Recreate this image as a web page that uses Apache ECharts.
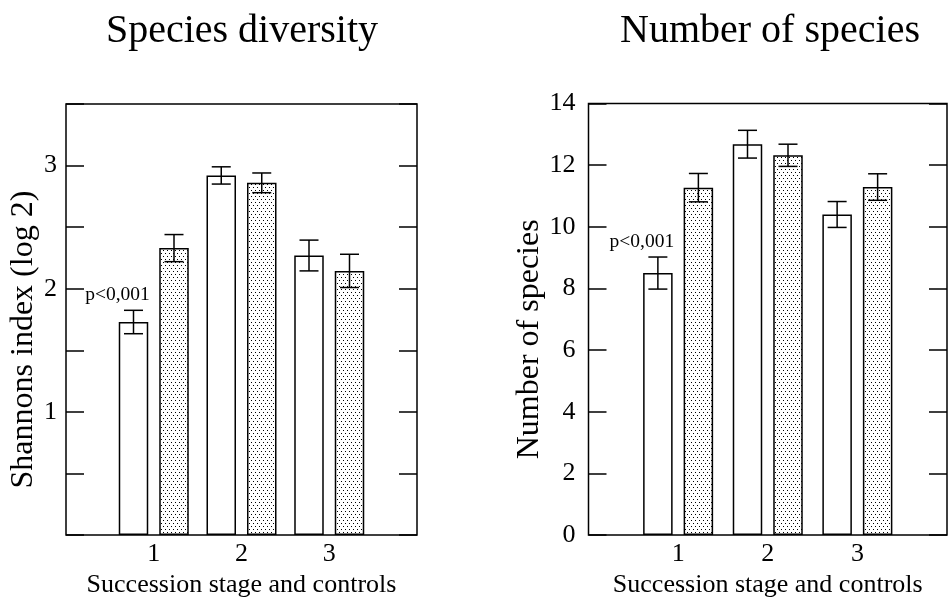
<!DOCTYPE html>
<html>
<head>
<meta charset="utf-8">
<script src="https://cdn.jsdelivr.net/npm/echarts@6/dist/echarts.min.js"></script>
<style>
html,body{margin:0;padding:0;background:#fff;}
#c{width:950px;height:603px;}
</style>
</head>
<body>
<div id="c"></div>
<script>
// ---- data ----
const categories = ['1', '2', '3'];
const shannonOpen = [1.73, 2.92, 2.27];
const shannonOpenErr = [0.095, 0.07, 0.125];
const shannonDotted = [2.33, 2.86, 2.145];
const shannonDottedErr = [0.11, 0.08, 0.135];
const speciesOpen = [8.5, 12.68, 10.4];
const speciesOpenErr = [0.52, 0.45, 0.42];
const speciesDotted = [11.27, 12.32, 11.29];
const speciesDottedErr = [0.46, 0.36, 0.43];
const shannonTickLabels = ['1', '2', '3'];
const speciesTickLabels = ['0', '2', '4', '6', '8', '10', '12', '14'];
const titles = ['Species diversity', 'Number of species'];
const yNames = ['Shannons index (log 2)', 'Number of species'];
const xName = 'Succession stage and controls';
const annotation = 'p<0,001';

// ---- style ----
const FONT = 'Liberation Serif';
const BAR_W = 29.5;
const BAR_OFF = 20.25;

// dotted pattern
const pc = document.createElement('canvas');
pc.width = 4; pc.height = 6;
const pctx = pc.getContext('2d');
pctx.fillStyle = '#fff'; pctx.fillRect(0, 0, 4, 6);
pctx.fillStyle = '#000';
pctx.fillRect(1, 1, 1, 1);
pctx.fillRect(3, 4, 1, 1);
const dotted = { image: pc, repeat: 'repeat' };

const xData = [''].concat(categories, ['']);
const pad = arr => ['-'].concat(arr, ['-']);

function errData(vals, errs) {
  return categories.map((c, i) => [i + 1, vals[i] - errs[i], vals[i] + errs[i]]);
}

function errSeries(vals, errs, off, xi, yi) {
  return {
    type: 'custom', xAxisIndex: xi, yAxisIndex: yi, z: 10,
    data: errData(vals, errs),
    encode: { x: 0, y: [1, 2] },
    renderItem: function (params, api) {
      const lo = api.coord([api.value(0), api.value(1)]);
      const hi = api.coord([api.value(0), api.value(2)]);
      const x = lo[0] + off;
      const cap = 9.5;
      const st = { stroke: '#000', lineWidth: 1.5 };
      return {
        type: 'group',
        children: [
          { type: 'line', shape: { x1: x, y1: lo[1], x2: x, y2: hi[1] }, style: st },
          { type: 'line', shape: { x1: x - cap, y1: lo[1], x2: x + cap, y2: lo[1] }, style: st },
          { type: 'line', shape: { x1: x - cap, y1: hi[1], x2: x + cap, y2: hi[1] }, style: st }
        ]
      };
    }
  };
}

function annSeries(vals, errs, xi, yi) {
  return {
    type: 'custom', xAxisIndex: xi, yAxisIndex: yi, z: 11,
    data: [[1, vals[0] + errs[0]]],
    renderItem: function (params, api) {
      const p = api.coord([api.value(0), api.value(1)]);
      return {
        type: 'text',
        x: p[0] - BAR_OFF - 16, y: p[1] - 15,
        style: { text: annotation, fill: '#000', fontSize: 19.5, fontFamily: FONT, align: 'center', verticalAlign: 'middle' }
      };
    }
  };
}

function barSeries(vals, fill, xi, yi) {
  return {
    type: 'bar', xAxisIndex: xi, yAxisIndex: yi,
    data: pad(vals), barWidth: BAR_W, barGap: '37.3%',
    itemStyle: { color: fill, borderColor: '#000', borderWidth: 1.5 },
    emphasis: { disabled: true }, silent: true
  };
}

const grids = [
  { left: 66, top: 104, width: 351, height: 434, show: true, borderColor: '#000', borderWidth: 1.5, backgroundColor: 'transparent' },
  { left: 588.5, top: 103.5, width: 359.5, height: 437, show: true, borderColor: '#000', borderWidth: 1.5, backgroundColor: 'transparent' }
];

function xAxisFor(gi, gap) {
  return {
    type: 'category', gridIndex: gi, data: xData, boundaryGap: false,
    axisLine: { show: false }, axisTick: { show: false },
    axisLabel: { interval: 0, color: '#000', fontSize: 26, fontFamily: FONT, margin: 6 },
    name: xName, nameLocation: 'middle', nameGap: gap,
    nameTextStyle: { color: '#000', fontSize: 26, fontFamily: FONT },
    splitLine: { show: false }
  };
}

const option = {
  animation: false,
  backgroundColor: '#fff',
  grid: grids,
  xAxis: [xAxisFor(0, 25), xAxisFor(1, 23)],
  yAxis: [
    {
      type: 'value', gridIndex: 0, min: 0, max: 3.5, interval: 0.5, position: 'left',
      axisLine: { show: false },
      axisTick: { show: true, inside: true, length: 18, lineStyle: { color: '#000', width: 1.5 } },
      axisLabel: {
        color: '#000', fontSize: 26, fontFamily: FONT, margin: 9,
        formatter: v => (shannonTickLabels.indexOf(String(v)) >= 0 ? String(v) : '')
      },
      splitLine: { show: false },
      name: yNames[0], nameLocation: 'middle', nameGap: 26,
      nameTextStyle: { color: '#000', fontSize: 32, fontFamily: FONT, padding: [0, 40, 0, 0] }
    },
    {
      type: 'value', gridIndex: 0, min: 0, max: 3.5, interval: 0.5, position: 'right',
      axisLine: { show: false },
      axisTick: { show: true, inside: true, length: 18, lineStyle: { color: '#000', width: 1.5 } },
      axisLabel: { show: false }, splitLine: { show: false }
    },
    {
      type: 'value', gridIndex: 1, min: 0, max: 14, interval: 2, position: 'left',
      axisLine: { show: false },
      axisTick: { show: true, inside: true, length: 18, lineStyle: { color: '#000', width: 1.5 } },
      axisLabel: {
        color: '#000', fontSize: 26, fontFamily: FONT, margin: 13,
        formatter: v => (speciesTickLabels.indexOf(String(v)) >= 0 ? String(v) : '')
      },
      splitLine: { show: false },
      name: yNames[1], nameLocation: 'middle', nameGap: 26,
      nameTextStyle: { color: '#000', fontSize: 32, fontFamily: FONT, padding: [0, 40, 0, 0] }
    },
    {
      type: 'value', gridIndex: 1, min: 0, max: 14, interval: 2, position: 'right',
      axisLine: { show: false },
      axisTick: { show: true, inside: true, length: 18, lineStyle: { color: '#000', width: 1.5 } },
      axisLabel: { show: false }, splitLine: { show: false }
    }
  ],
  graphic: [
    { type: 'text', x: 242, y: 11, style: { text: titles[0], fill: '#000', fontSize: 40, fontFamily: FONT, align: 'center', verticalAlign: 'top' } },
    { type: 'text', x: 770, y: 11, style: { text: titles[1], fill: '#000', fontSize: 40, fontFamily: FONT, align: 'center', verticalAlign: 'top' } }
  ],
  series: [
    barSeries(shannonOpen, '#fff', 0, 0),
    barSeries(shannonDotted, dotted, 0, 0),
    errSeries(shannonOpen, shannonOpenErr, -BAR_OFF, 0, 0),
    errSeries(shannonDotted, shannonDottedErr, BAR_OFF, 0, 0),
    annSeries(shannonOpen, shannonOpenErr, 0, 0),
    barSeries(speciesOpen, '#fff', 1, 2),
    barSeries(speciesDotted, dotted, 1, 2),
    errSeries(speciesOpen, speciesOpenErr, -BAR_OFF, 1, 2),
    errSeries(speciesDotted, speciesDottedErr, BAR_OFF, 1, 2),
    annSeries(speciesOpen, speciesOpenErr, 1, 2)
  ]
};

const chart = echarts.init(document.getElementById('c'), null, { renderer: 'canvas' });
chart.setOption(option);
</script>
</body>
</html>
